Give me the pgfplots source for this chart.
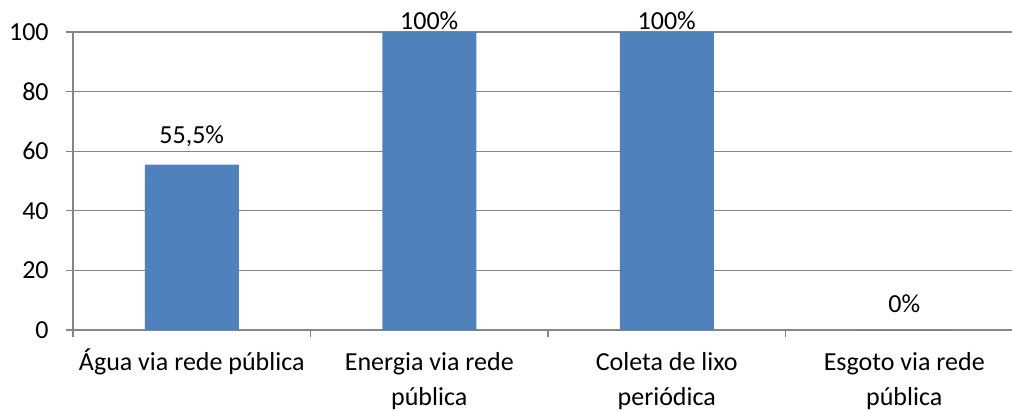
\documentclass[border=0pt]{standalone}
\usepackage{pgfplots}
\pgfplotsset{compat=1.18}
\usepackage{pgfplotstable}
\usepackage{fontspec}
\setmainfont{Carlito}
\definecolor{barblue}{HTML}{4F81BD}
\definecolor{gridgray}{HTML}{868686}
\pgfplotstableread{
x y lab dy
0 55.5 55,5\% 21.6
1 100 100\% 2
2 100 100\% 2
3 0 0\% 18
}\datatab
\begin{document}
\begin{tikzpicture}
\begin{axis}[name=ax, scale only axis, width=704.25pt, height=223.5pt,
  xmin=-0.5, xmax=3.4537, ymin=0, ymax=100,
  axis lines*=left,
  axis line style={-, draw=gridgray, line width=1pt},
  ytick={0,20,40,60,80,100},
  yticklabels={0,20,40,60,80,100},
  ymajorgrids, grid style={draw=gridgray, line width=1pt},
  tick align=outside, major tick length=5.25pt,
  tick style={draw=gridgray, line width=1pt},
  xtick={-0.5,0.5,1.5,2.5}, xticklabels={},
  extra x ticks={0,1,2,3},
  extra x tick labels={{\smash{Á}gua via rede pública},{Energia via rede\\pública},{Coleta de lixo\\periódica},{Esgoto via rede\\pública}},
  extra x tick style={major tick length=0pt, grid=none},
  xticklabel style={align=center, font=\fontsize{19.5}{26}\selectfont, yshift=-13.5pt},
  yticklabel style={font=\fontsize{19.5}{24.5}\selectfont, xshift=-9.5pt},
  /pgf/number format/assume math mode=true,
  ybar, bar width=70.5pt,
  nodes near coords,
  point meta=explicit symbolic,
  visualization depends on={\thisrow{dy} \as \dy},
  every node near coord/.append style={anchor=base, yshift=\dy*0.75pt, font=\fontsize{19.5}{24.5}\selectfont, text=black},
  clip=false,
]
\addplot[fill=barblue, draw=none] table[x=x, y=y, meta=lab] {\datatab};
\end{axis}
\pgfresetboundingbox
\path ([xshift=-54.75pt,yshift=-60pt]ax.south west) rectangle ([xshift=704.25pt,yshift=247.5pt]ax.south west);
\end{tikzpicture}
\end{document}
